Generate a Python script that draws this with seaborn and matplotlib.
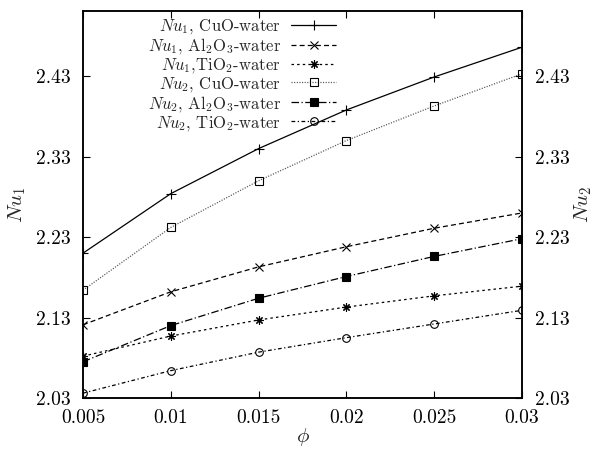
import matplotlib
matplotlib.use("Agg")
import matplotlib.pyplot as plt
import seaborn as sns

# ---- data ----
phi = [0.005, 0.01, 0.015, 0.02, 0.025, 0.03]
nu1_cuo = [2.210, 2.284, 2.340, 2.388, 2.429, 2.466]
nu1_al2o3 = [2.121, 2.162, 2.193, 2.218, 2.241, 2.260]
nu1_tio2 = [2.082, 2.107, 2.127, 2.143, 2.157, 2.169]
nu2_cuo = [2.164, 2.242, 2.300, 2.350, 2.393, 2.433]
nu2_al2o3 = [2.075, 2.120, 2.154, 2.181, 2.206, 2.228]
nu2_tio2 = [2.036, 2.064, 2.087, 2.105, 2.122, 2.139]

series_labels = [
    r"$Nu_1$, CuO-water",
    r"$Nu_1$, Al$_2$O$_3$-water",
    r"$Nu_1$,TiO$_2$-water",
    r"$Nu_2$, CuO-water",
    r"$Nu_2$, Al$_2$O$_3$-water",
    r"$Nu_2$, TiO$_2$-water",
]
x_ticks = [0.005, 0.01, 0.015, 0.02, 0.025, 0.03]
x_tick_labels = ["0.005", "0.01", "0.015", "0.02", "0.025", "0.03"]
y_ticks = [2.03, 2.13, 2.23, 2.33, 2.43]
y_tick_labels = ["2.03", "2.13", "2.23", "2.33", "2.43"]
x_label = r"$\phi$"
y1_label = r"$Nu_1$"
y2_label = r"$Nu_2$"

sns.set_theme(style="ticks")
plt.rcParams.update({
    "font.family": ["cmr10", "DejaVu Serif"],
    "mathtext.fontset": "cm",
    "axes.unicode_minus": False,
    "axes.formatter.use_mathtext": True,
})

fig = plt.figure(figsize=(5.99, 4.54), dpi=100)
ax = fig.add_axes([83 / 599, 1 - 398 / 454, 439 / 599, 387 / 454])
ax2 = ax.twinx()

styles = [
    dict(linestyle="-", marker="+", markersize=7, markerfacecolor="black", color="black"),
    dict(linestyle=(0, (4, 2.5)), marker="x", markersize=5.5, markerfacecolor="black", color="black"),
    dict(linestyle=(0, (2, 2.5)), marker=(8, 2, 0), markersize=6, markerfacecolor="black", color="black"),
    dict(linestyle=(0, (0.9, 1.2)), marker="s", markersize=5.5, markerfacecolor="none", color="#555555"),
    dict(linestyle=(0, (6, 2, 1, 2)), marker="s", markersize=5.5, markerfacecolor="black", color="black"),
    dict(linestyle=(0, (3, 2, 1, 2)), marker="o", markersize=5.5, markerfacecolor="none", color="black"),
]

all_series = [nu1_cuo, nu1_al2o3, nu1_tio2, nu2_cuo, nu2_al2o3, nu2_tio2]
for vals, lab, st in zip(all_series, series_labels, styles):
    sns.lineplot(x=phi, y=vals, ax=ax, label=lab, legend=False,
                 linewidth=0.9, markeredgecolor="black", markeredgewidth=0.8,
                 errorbar=None, **st)

ax.set_xlim(0.005, 0.03)
ax.set_ylim(2.03, 2.511)
ax2.set_ylim(ax.get_ylim())

ax.set_xticks(x_ticks)
ax.set_xticklabels(x_tick_labels)
ax.set_yticks(y_ticks)
ax.set_yticklabels(y_tick_labels)
ax2.set_yticks(y_ticks)
ax2.set_yticklabels(y_tick_labels)

ax.tick_params(axis="x", direction="in", length=5, width=0.8, top=True, bottom=True,
               labelsize=14, pad=8, colors="black")
ax.tick_params(axis="y", direction="in", length=5, width=0.8, left=True, right=False,
               labelsize=14, pad=9, colors="black")
ax2.tick_params(axis="y", direction="in", length=5, width=0.8, right=True, left=False,
                labelsize=14, pad=9, colors="black")

for a in (ax, ax2):
    for s in a.spines.values():
        s.set_linewidth(1.1)
        s.set_color("black")
        s.set_visible(True)

ax.set_xlabel(x_label, fontsize=15)
ax.set_ylabel(y1_label, fontsize=15)
ax2.set_ylabel(y2_label, fontsize=15, rotation=90)
ax.xaxis.set_label_coords(0.5, -0.072)
ax.yaxis.set_label_coords(-0.125, 0.5)
ax2.yaxis.set_label_coords(1.114, 0.5)

handles, labels = ax.get_legend_handles_labels()
leg = ax.legend(handles, labels, loc="upper right", bbox_to_anchor=((336 - 83) / 439, (398 - 17) / 387),
                frameon=False, markerfirst=False, fontsize=12, handlelength=2.7,
                handletextpad=0.6, labelspacing=0.0, borderpad=0, borderaxespad=0)

fig.savefig("out.png", dpi=100)
